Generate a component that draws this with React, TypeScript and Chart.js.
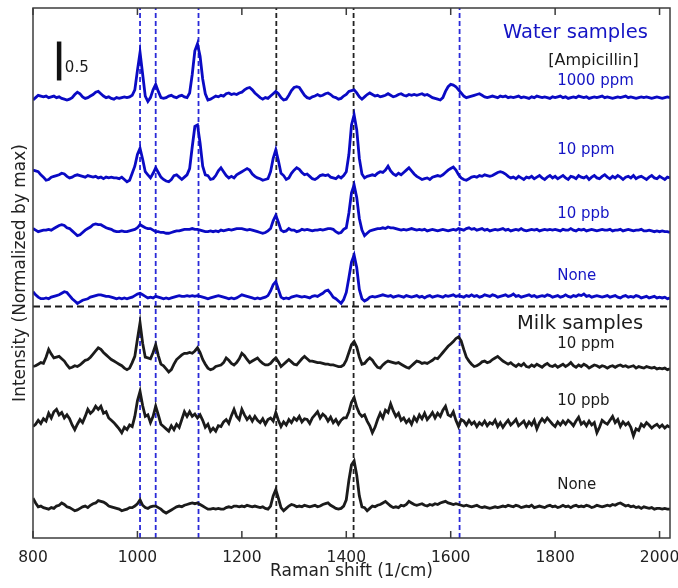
import React, { useEffect, useRef } from 'react';
import { Chart, registerables } from 'chart.js';

Chart.register(...registerables);

// ---- sampling axis (Raman shift, 1/cm): 800..2020 every 5 cm^-1 ----
const SHIFT_START = 800;
const SHIFT_STEP = 5;
const SHIFT_COUNT = 245;
const RAMAN_SHIFT = Array.from({ length: SHIFT_COUNT }, (_, i) => SHIFT_START + SHIFT_STEP * i);

// ---- spectra (normalized intensity, relative to each trace's own baseline) ----
const WATER_1000PPM = [
  -0.03, 0.0, 0.03, 0.02, 0.01, 0.02, 0.0, 0.01, 0.02, 0.0, 0.01, -0.01, -0.02, -0.03, -0.02, 0.0, 0.04, 0.07, 0.05, 0.01,
  -0.01, 0.0, 0.02, 0.04, 0.07, 0.08, 0.05, 0.02, 0.0, 0.01, -0.01, -0.02, 0.0, -0.01, 0.0, 0.01, 0.0, 0.01, 0.03, 0.1,
  0.35, 0.58, 0.3, 0.02, -0.05, 0.0, 0.1, 0.17, 0.08, 0.0, -0.01, 0.0, 0.02, 0.03, 0.01, 0.0, 0.02, 0.03, 0.01, 0.0,
  0.06, 0.3, 0.6, 0.69, 0.53, 0.24, 0.05, -0.03, -0.02, 0.0, 0.02, 0.01, 0.03, 0.02, 0.05, 0.06, 0.04, 0.05, 0.04, 0.06,
  0.07, 0.1, 0.12, 0.13, 0.1, 0.06, 0.03, 0.0, -0.02, 0.0, -0.01, 0.02, 0.05, 0.08, 0.05, 0.0, -0.03, -0.02, 0.03, 0.09,
  0.13, 0.14, 0.13, 0.08, 0.03, 0.0, -0.01, 0.01, 0.02, 0.04, 0.02, 0.03, 0.05, 0.06, 0.04, 0.01, 0.0, -0.02, -0.01, 0.02,
  0.04, 0.08, 0.09, 0.1, 0.06, 0.01, -0.02, 0.01, 0.04, 0.06, 0.04, 0.02, 0.03, 0.01, 0.02, 0.03, 0.05, 0.03, 0.01, 0.02,
  0.04, 0.05, 0.03, 0.02, 0.04, 0.03, 0.04, 0.03, 0.04, 0.05, 0.03, 0.04, 0.02, 0.0, -0.01, -0.02, -0.03, 0.0, 0.08, 0.14,
  0.17, 0.16, 0.14, 0.1, 0.06, 0.02, 0.0, 0.01, 0.02, 0.03, 0.04, 0.05, 0.03, 0.01, 0.0, 0.01, 0.02, 0.01, 0.0, 0.02,
  0.01, 0.02, 0.0, 0.01, 0.0, 0.01, 0.02, 0.0, 0.01, 0.0, -0.01, 0.01, 0.0, 0.02, 0.01, 0.0, 0.01, 0.0, -0.01, 0.01,
  0.0, 0.01, 0.02, 0.0, 0.01, -0.01, 0.0, 0.01, 0.0, 0.02, 0.01, 0.0, 0.01, -0.01, 0.0, 0.01, 0.0, 0.01, 0.02, 0.0,
  0.01, 0.0, -0.01, 0.0, 0.01, 0.0, 0.01, 0.02, 0.0, 0.01, 0.0, -0.01, 0.0, 0.01, 0.0, 0.01, 0.0, -0.01, 0.0, 0.01,
  0.0, -0.01, 0.0, 0.01, 0.0,
];

const WATER_10PPM = [
  0.1, 0.09, 0.08, 0.04, 0.01, -0.03, -0.02, 0.01, 0.02, 0.03, 0.04, 0.06, 0.05, 0.02, 0.0, 0.01, 0.03, 0.04, 0.03, 0.02,
  0.01, 0.03, 0.02, 0.01, 0.02, 0.0, 0.01, -0.01, 0.01, 0.0, 0.01, 0.0, 0.0, -0.01, 0.01, -0.02, -0.05, -0.03, 0.06, 0.15,
  0.3, 0.38, 0.24, 0.08, 0.04, 0.0, 0.06, 0.13, 0.07, 0.01, -0.02, -0.04, -0.05, -0.02, 0.03, 0.04, 0.01, -0.02, 0.01, 0.04,
  0.12, 0.4, 0.66, 0.68, 0.45, 0.15, 0.04, 0.03, -0.02, -0.01, 0.03, 0.09, 0.13, 0.08, 0.03, 0.0, 0.02, 0.0, 0.04, 0.06,
  0.08, 0.1, 0.12, 0.1, 0.05, 0.02, 0.0, -0.01, -0.03, -0.02, -0.01, 0.08, 0.25, 0.36, 0.22, 0.06, 0.03, -0.02, 0.0, 0.06,
  0.1, 0.13, 0.11, 0.07, 0.04, 0.05, 0.02, -0.01, -0.02, 0.0, 0.03, 0.04, 0.03, 0.04, 0.01, 0.0, -0.01, 0.02, 0.0, 0.03,
  0.08, 0.3, 0.68, 0.81, 0.62, 0.25, 0.05, 0.0, 0.02, 0.03, 0.04, 0.03, 0.06, 0.08, 0.07, 0.1, 0.15, 0.09, 0.05, 0.03,
  0.06, 0.04, 0.07, 0.1, 0.13, 0.09, 0.05, 0.02, 0.0, -0.02, -0.01, 0.0, -0.02, 0.01, 0.02, 0.03, 0.02, 0.04, 0.07, 0.1,
  0.12, 0.14, 0.1, 0.04, 0.0, -0.02, -0.03, -0.01, 0.01, 0.02, 0.01, 0.03, 0.02, 0.04, 0.03, 0.02, 0.03, 0.05, 0.07, 0.08,
  0.07, 0.05, 0.02, 0.0, 0.01, -0.01, 0.02, 0.0, -0.02, 0.01, 0.0, 0.02, -0.01, 0.01, 0.03, 0.0, -0.02, 0.01, 0.03, 0.0,
  0.02, -0.01, 0.01, 0.03, 0.0, -0.02, 0.02, 0.01, -0.01, 0.03, 0.01, 0.0, 0.02, -0.02, 0.01, 0.03, 0.0, -0.01, 0.02, 0.04,
  0.01, -0.01, 0.02, 0.0, 0.03, 0.01, -0.02, 0.01, 0.02, 0.0, 0.03, -0.01, 0.01, 0.02, 0.0, -0.02, 0.01, 0.03, 0.0, -0.01,
  0.02, 0.0, -0.02, 0.01, 0.0,
];

const WATER_10PPB = [
  0.02, 0.0, -0.02, -0.01, 0.0, 0.0, 0.01, 0.0, 0.02, 0.04, 0.06, 0.07, 0.06, 0.03, 0.02, -0.01, -0.04, -0.07, -0.06, -0.03,
  0.0, 0.02, 0.04, 0.07, 0.08, 0.07, 0.07, 0.05, 0.03, 0.02, 0.01, -0.01, -0.02, -0.02, -0.01, -0.02, -0.02, -0.01, 0.0, 0.01,
  0.03, 0.07, 0.05, 0.03, 0.02, 0.02, 0.0, -0.02, -0.02, -0.03, -0.03, -0.04, -0.04, -0.03, -0.02, -0.01, -0.01, 0.0, 0.01, 0.01,
  0.01, 0.02, 0.01, 0.01, 0.0, -0.01, -0.02, -0.02, -0.01, -0.02, -0.01, -0.02, 0.0, -0.01, 0.0, 0.01, 0.0, 0.01, 0.02, 0.02,
  0.02, 0.01, 0.0, 0.01, 0.0, -0.01, -0.02, -0.03, -0.04, -0.03, -0.01, 0.02, 0.12, 0.19, 0.1, 0.0, -0.02, -0.01, 0.02, 0.0,
  0.0, -0.02, -0.01, 0.01, 0.0, 0.01, 0.0, -0.01, 0.0, 0.0, 0.01, 0.0, 0.01, 0.02, 0.02, 0.01, -0.02, -0.04, -0.03, 0.01,
  0.03, 0.22, 0.48, 0.58, 0.42, 0.15, 0.0, -0.07, -0.04, -0.01, 0.0, 0.01, 0.02, 0.02, 0.03, 0.02, 0.04, 0.03, 0.03, 0.02,
  0.01, 0.0, 0.01, 0.0, 0.01, 0.02, 0.01, 0.0, 0.01, 0.0, 0.01, -0.01, 0.0, 0.01, 0.0, -0.01, 0.0, 0.01, 0.0, -0.01,
  0.0, 0.01, 0.0, 0.02, 0.01, 0.0, 0.02, 0.03, 0.01, 0.02, 0.0, 0.01, 0.02, 0.0, 0.01, -0.01, 0.0, 0.01, 0.0, 0.01,
  0.02, 0.0, 0.01, -0.01, 0.0, 0.01, 0.0, 0.02, 0.0, -0.01, 0.0, 0.01, 0.0, 0.01, -0.01, 0.0, 0.01, 0.0, 0.01, 0.0,
  0.01, 0.0, -0.01, 0.01, 0.0, 0.0, 0.02, 0.0, -0.01, 0.01, 0.0, 0.01, -0.01, 0.0, 0.01, 0.0, -0.01, 0.0, 0.01, 0.0,
  0.0, 0.01, -0.01, 0.0, 0.0, 0.01, -0.01, 0.0, 0.01, 0.0, -0.01, 0.0, 0.0, 0.01, -0.01, -0.01, 0.0, -0.01, -0.02, -0.01,
  -0.02, -0.01, -0.02, -0.02, -0.03,
];

const WATER_NONE = [
  0.07, 0.03, 0.0, -0.02, -0.02, -0.01, -0.02, 0.0, 0.01, 0.02, 0.03, 0.05, 0.07, 0.06, 0.02, -0.02, -0.05, -0.08, -0.06, -0.04,
  -0.03, -0.02, 0.0, 0.01, 0.02, 0.03, 0.03, 0.02, 0.01, 0.01, 0.0, -0.01, -0.02, -0.01, -0.02, -0.01, -0.02, -0.01, 0.0, 0.02,
  0.04, 0.05, 0.03, 0.01, -0.01, 0.0, -0.01, 0.01, 0.0, -0.01, -0.02, -0.01, -0.02, -0.01, 0.0, 0.01, 0.02, 0.01, 0.01, 0.02,
  0.01, 0.02, 0.01, 0.02, 0.01, 0.0, -0.01, -0.02, -0.01, 0.0, 0.01, 0.02, 0.01, 0.0, -0.01, -0.02, -0.01, -0.02, -0.01, 0.01,
  0.03, 0.02, 0.01, 0.0, -0.01, -0.02, -0.01, -0.02, -0.01, 0.0, 0.02, 0.08, 0.16, 0.2, 0.1, 0.0, -0.02, -0.01, -0.02, 0.0,
  0.01, 0.02, 0.01, 0.0, 0.01, 0.0, -0.01, 0.01, 0.02, 0.01, 0.03, 0.05, 0.08, 0.09, 0.05, 0.0, -0.02, -0.05, -0.08, -0.03,
  0.06, 0.25, 0.45, 0.54, 0.38, 0.1, -0.02, -0.05, -0.03, 0.0, 0.01, 0.0, 0.01, 0.02, 0.03, 0.02, 0.01, 0.02, 0.0, 0.01,
  0.02, 0.01, 0.0, 0.02, 0.01, 0.0, 0.01, 0.02, 0.0, 0.01, -0.01, 0.01, 0.02, 0.0, 0.01, 0.02, 0.01, 0.0, 0.02, 0.01,
  0.02, 0.03, 0.01, 0.02, 0.01, 0.0, 0.02, 0.01, 0.03, 0.01, 0.02, 0.0, 0.01, 0.03, 0.02, 0.01, 0.03, 0.02, 0.0, 0.01,
  0.02, 0.03, 0.01, 0.02, 0.04, 0.01, 0.02, 0.0, 0.01, 0.02, 0.03, 0.01, 0.02, 0.0, 0.01, 0.02, 0.01, 0.03, 0.02, 0.0,
  0.01, 0.02, 0.0, 0.01, 0.03, 0.01, 0.0, 0.02, 0.01, 0.03, 0.02, 0.04, 0.01, 0.02, 0.0, 0.01, 0.02, 0.01, 0.0, 0.01,
  0.02, 0.0, 0.01, 0.02, 0.0, -0.01, 0.01, 0.02, 0.0, 0.01, 0.0, 0.02, 0.01, -0.01, 0.0, 0.01, -0.01, 0.0, 0.01, -0.01,
  0.0, -0.01, 0.0, -0.02, -0.01,
];

const MILK_10PPM = [
  0.0, 0.01, 0.03, 0.05, 0.04, 0.12, 0.22, 0.16, 0.11, 0.12, 0.13, 0.1, 0.07, 0.02, -0.02, -0.01, 0.01, 0.0, 0.02, 0.05,
  0.08, 0.09, 0.12, 0.16, 0.2, 0.24, 0.22, 0.18, 0.15, 0.12, 0.09, 0.07, 0.05, 0.03, 0.01, -0.02, -0.04, -0.02, 0.05, 0.13,
  0.35, 0.56, 0.3, 0.12, 0.11, 0.1, 0.18, 0.28, 0.14, 0.03, 0.01, -0.03, -0.07, -0.04, 0.03, 0.09, 0.12, 0.15, 0.17, 0.17,
  0.18, 0.17, 0.2, 0.24, 0.18, 0.09, 0.03, -0.02, -0.04, -0.03, 0.0, 0.01, 0.02, 0.05, 0.11, 0.08, 0.04, 0.02, 0.05, 0.1,
  0.17, 0.14, 0.09, 0.05, 0.07, 0.09, 0.11, 0.07, 0.04, 0.02, 0.02, 0.04, 0.08, 0.11, 0.06, 0.0, 0.03, 0.06, 0.09, 0.06,
  0.03, 0.02, 0.06, 0.1, 0.13, 0.1, 0.07, 0.07, 0.06, 0.05, 0.05, 0.04, 0.03, 0.03, 0.02, 0.02, 0.01, 0.0, 0.0, 0.02,
  0.08, 0.18, 0.28, 0.32, 0.25, 0.12, 0.03, 0.04, 0.08, 0.11, 0.08, 0.03, -0.01, -0.02, 0.02, 0.05, 0.07, 0.06, 0.05, 0.04,
  0.05, 0.03, 0.01, -0.01, -0.02, 0.01, 0.04, 0.07, 0.06, 0.04, 0.05, 0.04, 0.06, 0.08, 0.11, 0.1, 0.14, 0.18, 0.22, 0.26,
  0.29, 0.32, 0.36, 0.38, 0.33, 0.22, 0.12, 0.07, 0.03, 0.0, 0.01, 0.03, 0.06, 0.07, 0.05, 0.06, 0.09, 0.11, 0.13, 0.1,
  0.07, 0.05, 0.03, 0.05, 0.02, 0.0, 0.03, 0.01, 0.04, 0.0, -0.01, 0.02, 0.0, 0.03, 0.01, -0.01, 0.02, 0.04, 0.01, 0.0,
  0.02, -0.01, 0.01, 0.03, 0.0, 0.02, 0.05, 0.01, -0.01, 0.02, 0.0, 0.03, 0.01, -0.02, 0.0, 0.02, 0.01, -0.01, 0.01, 0.0,
  -0.02, 0.0, 0.01, -0.01, 0.01, 0.02, 0.0, 0.01, -0.01, 0.0, 0.01, -0.02, 0.0, -0.01, -0.02, 0.0, -0.01, -0.02, -0.01, -0.03,
  -0.02, -0.03, -0.02, -0.04, -0.03,
];

const MILK_10PPB = [
  -0.05, -0.02, 0.03, -0.01, 0.05, 0.02, 0.12, 0.06, 0.14, 0.17, 0.1, 0.13, 0.06, 0.1, 0.05, -0.03, -0.09, -0.02, 0.04, 0.0,
  0.08, 0.17, 0.12, 0.15, 0.21, 0.17, 0.21, 0.12, 0.14, 0.06, 0.03, 0.0, -0.04, -0.08, -0.13, -0.06, -0.09, -0.03, -0.05, 0.08,
  0.28, 0.4, 0.22, 0.08, 0.1, 0.0, 0.08, 0.21, 0.1, -0.02, -0.05, -0.08, -0.11, -0.04, -0.09, -0.02, -0.06, 0.04, 0.14, 0.08,
  0.14, 0.08, 0.11, 0.06, 0.1, 0.03, -0.06, -0.02, -0.11, -0.07, -0.11, -0.04, -0.05, 0.01, 0.04, -0.01, 0.09, 0.17, 0.08, 0.04,
  0.17, 0.1, 0.04, 0.08, 0.02, 0.08, 0.03, 0.0, 0.05, -0.02, 0.04, 0.06, 0.02, 0.13, 0.03, -0.05, 0.01, -0.03, 0.04, 0.0,
  0.06, 0.03, 0.08, 0.01, 0.05, 0.04, -0.01, 0.06, 0.1, 0.14, 0.06, 0.11, 0.08, 0.02, 0.07, 0.0, 0.04, -0.02, 0.03, 0.06,
  0.06, 0.14, 0.26, 0.32, 0.2, 0.12, 0.08, 0.1, 0.02, -0.04, -0.13, -0.06, 0.04, 0.12, 0.06, 0.16, 0.13, 0.24, 0.15, 0.08,
  0.12, 0.03, 0.06, 0.0, 0.04, -0.02, 0.07, 0.02, 0.1, 0.05, 0.12, 0.04, 0.08, 0.13, 0.06, 0.12, 0.08, 0.16, 0.21, 0.1,
  0.08, 0.14, 0.03, -0.05, 0.04, 0.02, -0.03, 0.03, -0.02, 0.01, -0.05, 0.0, -0.03, 0.02, -0.04, 0.0, -0.02, 0.03, -0.05, 0.0,
  -0.06, -0.01, 0.03, -0.03, 0.0, 0.04, -0.04, -0.01, 0.02, -0.05, 0.01, -0.03, 0.03, -0.08, 0.0, 0.05, 0.01, 0.06, 0.02, -0.02,
  -0.05, 0.01, -0.03, 0.02, -0.02, 0.03, 0.0, -0.04, 0.02, 0.07, -0.02, 0.01, -0.04, 0.02, -0.03, 0.0, -0.13, -0.06, 0.03, 0.0,
  -0.02, 0.03, 0.08, 0.0, 0.04, -0.05, 0.01, -0.03, 0.0, -0.06, -0.17, -0.08, -0.1, -0.02, -0.05, 0.0, -0.03, -0.07, -0.04, -0.02,
  -0.06, -0.03, -0.07, -0.04, -0.06,
];

const MILK_NONE = [
  0.12, 0.06, 0.01, 0.02, 0.0, -0.01, -0.02, 0.0, -0.01, 0.02, 0.03, 0.06, 0.04, 0.01, 0.0, -0.02, -0.04, -0.03, -0.01, 0.01,
  0.02, 0.0, 0.03, 0.05, 0.06, 0.09, 0.08, 0.07, 0.05, 0.02, 0.01, 0.0, -0.01, -0.02, -0.04, -0.03, -0.02, 0.0, 0.0, 0.02,
  0.05, 0.1, 0.03, 0.0, -0.01, 0.01, 0.02, 0.02, 0.0, -0.02, -0.05, -0.07, -0.05, -0.03, -0.01, 0.01, 0.02, 0.01, 0.03, 0.04,
  0.05, 0.06, 0.05, 0.06, 0.04, 0.02, 0.0, -0.02, -0.02, -0.01, -0.02, -0.01, -0.02, -0.02, 0.0, 0.01, 0.0, 0.02, 0.02, 0.01,
  0.02, 0.01, 0.03, 0.02, 0.01, 0.02, 0.01, 0.0, 0.01, -0.01, -0.02, 0.02, 0.15, 0.23, 0.12, 0.0, -0.04, -0.01, 0.02, 0.04,
  0.03, 0.01, 0.02, 0.01, 0.03, 0.02, 0.01, 0.02, 0.03, 0.01, 0.02, 0.04, 0.05, 0.06, 0.03, 0.01, -0.01, -0.02, -0.01, 0.02,
  0.1, 0.35, 0.55, 0.6, 0.42, 0.15, 0.01, 0.0, -0.04, -0.01, 0.02, 0.01, 0.03, 0.04, 0.06, 0.08, 0.05, 0.02, 0.0, 0.01,
  0.0, 0.03, 0.02, 0.04, 0.08, 0.06, 0.04, 0.03, 0.04, 0.05, 0.03, 0.02, 0.04, 0.03, 0.05, 0.04, 0.06, 0.07, 0.08, 0.06,
  0.05, 0.04, 0.05, 0.04, 0.03, 0.02, 0.03, 0.02, 0.01, 0.02, 0.03, 0.01, 0.0, 0.01, 0.0, -0.01, 0.0, 0.01, 0.0, 0.01,
  0.02, 0.01, 0.03, 0.02, 0.01, 0.03, 0.02, 0.0, 0.01, 0.02, 0.01, 0.03, 0.0, 0.01, 0.02, 0.01, 0.0, 0.02, 0.03, 0.01,
  0.02, 0.0, 0.01, 0.03, 0.01, 0.02, 0.0, 0.02, 0.03, 0.01, 0.02, 0.01, 0.03, 0.02, 0.0, 0.01, 0.03, 0.02, 0.01, 0.02,
  0.03, 0.02, 0.04, 0.03, 0.05, 0.06, 0.04, 0.02, 0.03, 0.01, 0.02, 0.0, 0.01, -0.01, 0.01, 0.0, -0.01, 0.0, -0.02, -0.01,
  -0.01, -0.02, -0.01, -0.02, -0.02,
];

// ---- trace stacking & labels ----
const TRACES = [WATER_1000PPM, WATER_10PPM, WATER_10PPB, WATER_NONE, MILK_10PPM, MILK_10PPB, MILK_NONE];
const TRACE_NAMES = ['Water 1000 ppm', 'Water 10 ppm', 'Water 10 ppb', 'Water None', 'Milk 10 ppm', 'Milk 10 ppb', 'Milk None'];
const TRACE_OFFSETS = [5.65, 4.62, 3.95, 3.09, 2.2, 1.48, 0.39];
const TRACE_GROUP = ['water', 'water', 'water', 'water', 'milk', 'milk', 'milk'];

// ---- reference lines ----
const BLUE_MARKERS = [1005, 1035, 1117, 1617];
const BLACK_MARKERS = [1266, 1414];
const SEPARATOR_LEVEL = 2.97;
const SCALE_BAR_SHIFT = 850;
const SCALE_BAR_BOTTOM = 5.87;
const SCALE_BAR_LENGTH = 0.5;

// ---- axes ----
const X_MIN = 800;
const X_MAX = 2020;
const Y_MIN = 0;
const Y_MAX = 6.8;
const X_TICKS = [800, 1000, 1200, 1400, 1600, 1800, 2000];
const X_TITLE = 'Raman shift (1/cm)';
const Y_TITLE = 'Intensity (Normalized by max)';

// ---- text annotations (data coordinates, left-aligned at baseline) ----
const LABEL_TEXT = ['Water samples', '[Ampicillin]', '1000 ppm', '10 ppm', '10 ppb', 'None', 'Milk samples', '10 ppm', '10 ppb', 'None', '0.5'];
const LABEL_SHIFT = [1700, 1787, 1804, 1804, 1804, 1804, 1727, 1804, 1804, 1804, 861];
const LABEL_LEVEL = [6.42, 6.07, 5.815, 4.93, 4.11, 3.31, 2.68, 2.44, 1.71, 0.63, 5.98];
const LABEL_SIZE = [19.5, 16, 15, 15, 15, 15, 19.5, 15, 15, 15, 15];
const LABEL_GROUP = ['water', 'plain', 'water', 'water', 'water', 'water', 'milk', 'milk', 'milk', 'milk', 'plain'];

const FONT = '"DejaVu Sans", "Open Sans", sans-serif';
const BLUE = '#0a0ac4';
const BLUE_TEXT = '#1414c4';
const BLUE_DASH = '#2a2ad8';
const BLACK = '#1b1b1b';

const decorPlugin = {
  id: 'ramanDecor',
  afterDraw(chart: any) {
    const { ctx, chartArea: a, scales } = chart;
    const x = scales.x;
    const y = scales.y;
    ctx.save();
    // frame
    ctx.strokeStyle = '#3c3c3c';
    ctx.lineWidth = 1.5;
    ctx.strokeRect(a.left, a.top, a.right - a.left, a.bottom - a.top);
    // inward tick marks, bottom and top
    ctx.beginPath();
    for (const v of X_TICKS) {
      const px = x.getPixelForValue(v);
      ctx.moveTo(px, a.bottom);
      ctx.lineTo(px, a.bottom - 7);
      ctx.moveTo(px, a.top);
      ctx.lineTo(px, a.top + 7);
    }
    ctx.stroke();
    // tick labels
    ctx.fillStyle = '#222';
    ctx.textAlign = 'center';
    ctx.textBaseline = 'alphabetic';
    ctx.font = `15.5px ${FONT}`;
    for (const v of X_TICKS) {
      ctx.fillText(String(v), x.getPixelForValue(v), a.bottom + 24);
    }
    // annotations
    ctx.textAlign = 'left';
    LABEL_TEXT.forEach((t, i) => {
      const g = LABEL_GROUP[i];
      ctx.fillStyle = g === 'water' ? BLUE_TEXT : BLACK;
      ctx.font = `${LABEL_SIZE[i]}px ${FONT}`;
      ctx.fillText(t, x.getPixelForValue(LABEL_SHIFT[i]), y.getPixelForValue(LABEL_LEVEL[i]));
    });
    // axis titles
    ctx.fillStyle = '#222';
    ctx.textAlign = 'center';
    ctx.font = `17px ${FONT}`;
    ctx.fillText(X_TITLE, (a.left + a.right) / 2, a.bottom + 38);
    ctx.translate(21, (a.top + a.bottom) / 2);
    ctx.rotate(-Math.PI / 2);
    ctx.textBaseline = 'middle';
    ctx.font = `17px ${FONT}`;
    ctx.fillText(Y_TITLE, 0, 0);
    ctx.restore();
  },
};

export default function App() {
  const canvasRef = useRef<HTMLCanvasElement | null>(null);

  useEffect(() => {
    const canvas = canvasRef.current;
    if (!canvas) return;

    const traceSets = TRACES.map((vals, k) => ({
      label: TRACE_NAMES[k],
      data: RAMAN_SHIFT.slice(0, vals.length).map((s, i) => ({ x: s, y: vals[i] + TRACE_OFFSETS[k] })),
      borderColor: TRACE_GROUP[k] === 'water' ? BLUE : BLACK,
      borderWidth: 2.8,
      pointRadius: 0,
      tension: 0,
      order: 0,
    }));

    const markerSets = [
      ...BLUE_MARKERS.map((m) => ({ m, c: BLUE_DASH })),
      ...BLACK_MARKERS.map((m) => ({ m, c: '#222' })),
    ].map(({ m, c }) => ({
      label: `marker ${m}`,
      data: [
        { x: m, y: Y_MIN },
        { x: m, y: Y_MAX },
      ],
      borderColor: c,
      borderWidth: 1.8,
      borderDash: [5, 3],
      pointRadius: 0,
      order: 2,
    }));

    const separator = {
      label: 'separator',
      data: [
        { x: X_MIN, y: SEPARATOR_LEVEL },
        { x: X_MAX, y: SEPARATOR_LEVEL },
      ],
      borderColor: '#1b1b1b',
      borderWidth: 1.8,
      borderDash: [7, 4],
      pointRadius: 0,
      order: 2,
    };

    const scaleBar = {
      label: 'scale bar',
      data: [
        { x: SCALE_BAR_SHIFT, y: SCALE_BAR_BOTTOM },
        { x: SCALE_BAR_SHIFT, y: SCALE_BAR_BOTTOM + SCALE_BAR_LENGTH },
      ],
      borderColor: '#111',
      borderWidth: 4.5,
      pointRadius: 0,
      borderCapStyle: 'butt',
      order: 1,
    };

    const chart = new Chart(canvas, {
      type: 'line',
      data: { datasets: [...traceSets, scaleBar, ...markerSets, separator] as any },
      options: {
        animation: false,
        responsive: false,
        maintainAspectRatio: false,
        layout: { padding: { left: 33, top: 8, right: 8, bottom: 0 } },
        plugins: { legend: { display: false }, tooltip: { enabled: false } },
        scales: {
          x: {
            type: 'linear',
            min: X_MIN,
            max: X_MAX,
            position: 'bottom',
            grid: { display: false, drawTicks: false },
            border: { display: false },
            ticks: { display: false },
            afterFit: (s: any) => {
              s.height = 50;
            },
          },
          y: { type: 'linear', min: Y_MIN, max: Y_MAX, display: false },
        },
      },
      plugins: [decorPlugin],
    } as any);

    return () => chart.destroy();
  }, []);

  return (
    <div style={{ position: 'fixed', left: 0, top: 0, width: 678, height: 588, background: '#fff' }}>
      <canvas ref={canvasRef} width={678} height={588} style={{ width: 678, height: 588 }} />
    </div>
  );
}
